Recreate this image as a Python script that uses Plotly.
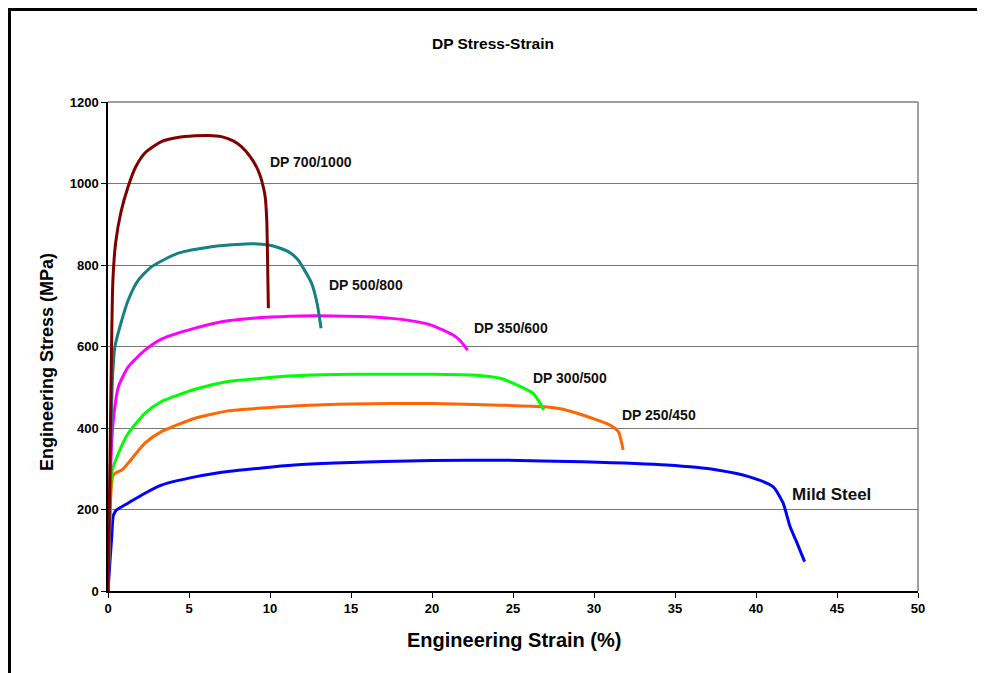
import plotly.graph_objects as go

# ---- data (strain %, stress MPa) ----
dp700_x = [0, 0.1, 0.2, 0.3, 0.47, 0.8, 1.23, 1.7, 2.28, 3.3, 4.3, 5.37, 6.2, 7.0, 7.7, 8.25, 8.8, 9.26, 9.5, 9.7, 9.8, 9.86, 9.9]
dp700_y = [0, 250, 550, 760, 854, 930, 991, 1040, 1075, 1103, 1113, 1117, 1118, 1115, 1105, 1090, 1065, 1033, 1005, 968, 910, 788, 694]

dp500_x = [0, 0.1, 0.2, 0.3, 0.43, 0.74, 1.25, 1.87, 2.7, 4.34, 6.4, 8.25, 9.0, 9.9, 10.5, 11.2, 11.7, 12.0, 12.57, 12.9, 13.15]
dp500_y = [0, 200, 420, 540, 600, 649, 714, 763, 796, 829, 845, 851, 852, 849, 843, 831, 814, 796, 755, 707, 645]

dp350_x = [0, 0.1, 0.2, 0.33, 0.64, 1.25, 2.28, 3.3, 5.37, 7.4, 9.5, 11.85, 14.0, 16.0, 17.5, 19.05, 20.0, 20.7, 21.3, 21.7, 22.2]
dp350_y = [0, 180, 340, 420, 501, 550, 591, 618, 645, 663, 671, 675, 675, 673, 669, 661, 652, 640, 628, 616, 591]

dp300_x = [0, 0.1, 0.23, 0.64, 1.25, 2.28, 3.3, 5.37, 7.4, 9.5, 11.5, 14.0, 17.0, 20.0, 22.5, 24.2, 25.4, 26.25, 26.67, 26.9]
dp300_y = [0, 150, 290, 338, 387, 436, 465, 495, 514, 522, 528, 531, 532, 532, 530, 522, 503, 485, 461, 444]

dp250_x = [0, 0.1, 0.33, 0.85, 1.25, 2.28, 3.3, 5.37, 7.4, 9.5, 11.5, 15.0, 20.0, 24.2, 26.9, 28.2, 29.3, 30.3, 30.99, 31.5, 31.8]
dp250_y = [0, 150, 285, 297, 314, 363, 391, 424, 442, 449, 454, 459, 460, 456, 452, 445, 432, 418, 407, 391, 346]

mild_x = [0, 0.1, 0.23, 0.33, 0.53, 1.25, 2.28, 3.3, 5.37, 7.4, 9.5, 11.5, 14.0, 17.0, 20.0, 24.2, 29.3, 34.5, 37.6, 39.6, 41.05, 41.67, 42.1, 42.5, 43.0]
mild_y = [0, 60, 133, 186, 199, 216, 240, 260, 280, 293, 302, 309, 314, 318, 320, 321, 317, 309, 297, 280, 256, 216, 158, 121, 72]

series_names = ["Mild Steel", "DP 250/450", "DP 300/500", "DP 350/600", "DP 500/800", "DP 700/1000"]
series_x = [mild_x, dp250_x, dp300_x, dp350_x, dp500_x, dp700_x]
series_y = [mild_y, dp250_y, dp300_y, dp350_y, dp500_y, dp700_y]
series_colors = ["#0000FF", "#FF6600", "#00FF00", "#FF00FF", "#178080", "#800000"]

# label anchor positions (strain, stress)
label_x = [42.1, 31.6, 26.1, 22.45, 13.5, 9.88]
label_y = [236, 432, 522, 645, 751, 1053]
label_size = [17, 14, 14, 14, 14, 14]

x_ticks = [0, 5, 10, 15, 20, 25, 30, 35, 40, 45, 50]
y_ticks = [0, 200, 400, 600, 800, 1000, 1200]

FONT = "Arial, Liberation Sans, sans-serif"

# figure geometry (page body has an 8px margin)
W, H = 977, 665
ML, MR, MT, MB = 100, 67, 94, 82
PW, PH = W - ML - MR, H - MT - MB

fig = go.Figure()
for name, xs, ys, c in zip(series_names, series_x, series_y, series_colors):
    fig.add_trace(go.Scatter(x=xs, y=ys, mode="lines", name=name,
                             line=dict(color=c, width=3, shape="spline", smoothing=0.6),
                             showlegend=False))

for name, lx, ly, sz in zip(series_names, label_x, label_y, label_size):
    fig.add_annotation(x=lx, y=ly, text="<b>%s</b>" % name, showarrow=False,
                       xanchor="left", yanchor="middle",
                       font=dict(family=FONT, size=sz, color="#111111"))

# axis titles (positioned as in the reference)
fig.add_annotation(xref="paper", yref="paper", x=(39 - ML) / PW, y=(H - MB - 354) / PH,
                   text="<b>Engineering Stress (MPa)</b>", textangle=-90, showarrow=False,
                   xanchor="center", yanchor="middle", font=dict(family=FONT, size=18, color="black"))
fig.add_annotation(xref="paper", yref="paper", x=(506 - ML) / PW, y=(H - MB - 632) / PH,
                   text="<b>Engineering Strain (%)</b>", showarrow=False,
                   xanchor="center", yanchor="middle", font=dict(family=FONT, size=20, color="black"))

# outer frame (left and top edges visible)
fig.add_shape(type="rect", xref="paper", yref="paper",
              x0=(1.5 - ML) / PW, x1=(W + 20 - ML) / PW,
              y0=-(MB + 20) / PH, y1=(H - MB - 1.5) / PH,
              line=dict(color="black", width=3), layer="below")

fig.update_layout(
    width=W, height=H,
    margin=dict(l=ML, r=MR, t=MT, b=MB),
    paper_bgcolor="white", plot_bgcolor="white",
    title=dict(text="<b>DP Stress-Strain</b>", x=485 / W, xanchor="center",
               y=1 - 36 / H, yanchor="middle",
               font=dict(family=FONT, size=15.5, color="black")),
    font=dict(family=FONT, color="black"),
)

fig.update_xaxes(range=[0, 50], tickvals=x_ticks, ticktext=["<b>%d</b>" % v for v in x_ticks],
                 ticks="outside", ticklen=5, tickcolor="black", showline=True, linecolor="black",
                 linewidth=1.5, mirror=False, showgrid=False, zeroline=False,
                 tickfont=dict(family=FONT, size=13))
fig.update_yaxes(range=[0, 1200], tickvals=y_ticks, ticktext=["<b>%d</b>" % v for v in y_ticks],
                 ticks="outside", ticklen=5, tickcolor="black", showline=True, linecolor="black",
                 linewidth=1.5, showgrid=True, gridcolor="#777777", gridwidth=1, zeroline=False,
                 tickfont=dict(family=FONT, size=13))

# gray plot-area border on top and right
fig.add_shape(type="line", xref="paper", yref="paper", x0=1, x1=1, y0=0, y1=1,
              line=dict(color="#808080", width=1.5))
fig.add_shape(type="line", xref="paper", yref="paper", x0=0, x1=1, y0=1, y1=1,
              line=dict(color="#808080", width=1.5))

fig.write_html("out.html")
